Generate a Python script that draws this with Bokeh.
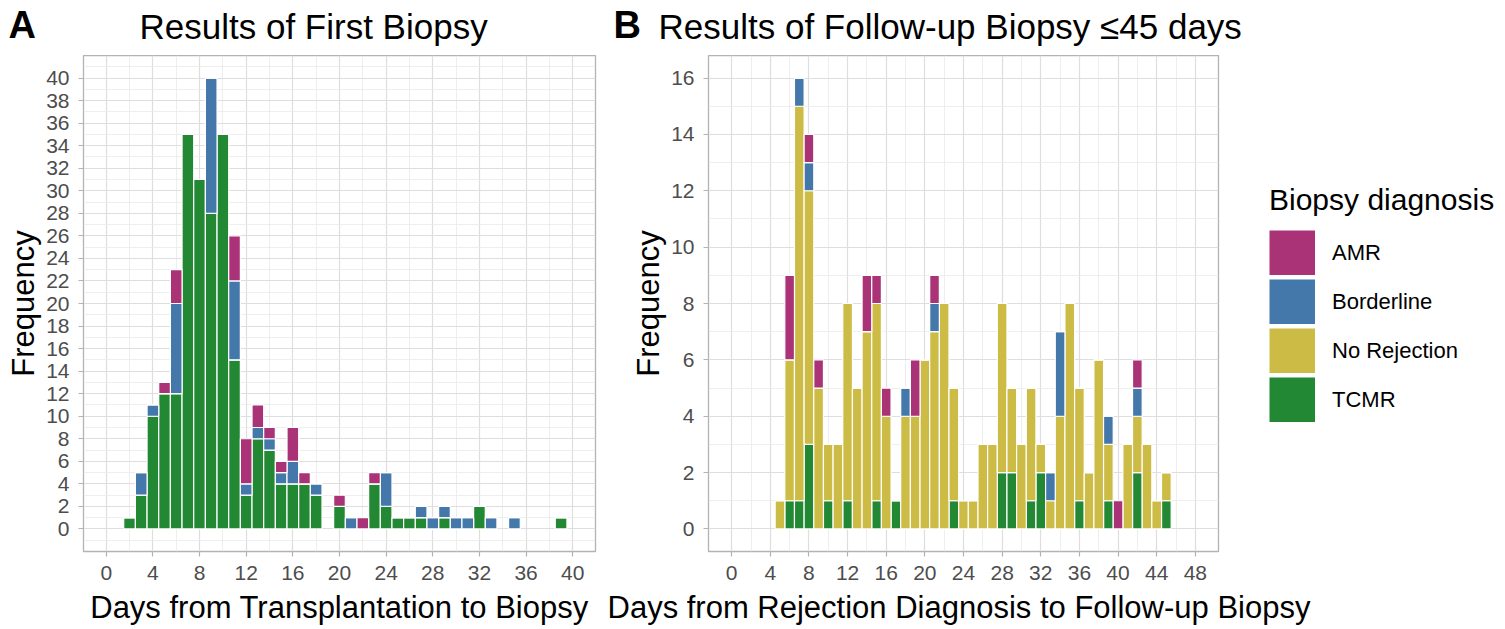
from bokeh.plotting import figure
from bokeh.models import Range1d, FixedTicker, Legend, LegendItem, ColumnDataSource
from bokeh.layouts import row, column
from bokeh.core.properties import value
from bokeh.embed import file_html
from bokeh.resources import INLINE

# ---------------- data ----------------
categories = ["AMR", "Borderline", "No Rejection", "TCMR"]
colors = ["#AA3377", "#4477AA", "#CCBB44", "#228833"]

# Panel A: days from transplantation to first biopsy
days_a   = [2, 3, 4, 5, 6, 7, 8, 9, 10, 11, 12, 13, 14, 15, 16, 17, 18, 20, 21, 22, 23, 24,
            25, 26, 27, 28, 29, 30, 31, 32, 33, 35, 39]
tcmr_a   = [1, 3, 10, 12, 12, 35, 31, 28, 35, 15, 3, 8, 7, 4, 4, 4, 3, 2, 0, 0, 4, 2,
            1, 1, 1, 0, 1, 0, 0, 2, 0, 0, 1]
norej_a  = [0, 0, 0, 0, 0, 0, 0, 0, 0, 0, 0, 0, 0, 0, 0, 0, 0, 0, 0, 0, 0, 0,
            0, 0, 0, 0, 0, 0, 0, 0, 0, 0, 0]
border_a = [0, 2, 1, 0, 8, 0, 0, 12, 0, 7, 1, 1, 1, 1, 2, 0, 1, 0, 1, 0, 0, 3,
            0, 0, 1, 1, 1, 1, 1, 0, 1, 1, 0]
amr_a    = [0, 0, 0, 1, 3, 0, 0, 0, 0, 4, 4, 2, 1, 1, 3, 1, 0, 1, 0, 1, 1, 0,
            0, 0, 0, 0, 0, 0, 0, 0, 0, 0, 0]

# Panel B: days from rejection diagnosis to follow-up biopsy (<=45 days)
days_b   = [5, 6, 7, 8, 9, 10, 11, 12, 13, 14, 15, 16, 17, 18, 19, 20, 21, 22, 23, 24, 25,
            26, 27, 28, 29, 30, 31, 32, 33, 34, 35, 36, 37, 38, 39, 40, 41, 42, 43, 44, 45]
tcmr_b   = [0, 1, 1, 3, 0, 1, 0, 1, 0, 0, 1, 0, 1, 0, 0, 0, 0, 0, 1, 0, 0,
            0, 0, 2, 2, 0, 1, 2, 0, 0, 0, 1, 0, 0, 1, 0, 0, 2, 0, 0, 1]
norej_b  = [1, 5, 14, 9, 5, 2, 3, 7, 5, 7, 7, 4, 0, 4, 4, 6, 7, 8, 4, 1, 1,
            3, 3, 6, 3, 3, 4, 1, 1, 4, 8, 4, 2, 6, 2, 0, 3, 2, 3, 1, 1]
border_b = [0, 0, 1, 1, 0, 0, 0, 0, 0, 0, 0, 0, 0, 1, 0, 0, 1, 0, 0, 0, 0,
            0, 0, 0, 0, 0, 0, 0, 1, 3, 0, 0, 0, 0, 1, 0, 0, 1, 0, 0, 0]
amr_b    = [0, 3, 0, 1, 1, 0, 0, 0, 0, 2, 1, 1, 0, 0, 2, 0, 1, 0, 0, 0, 0,
            0, 0, 0, 0, 0, 0, 0, 0, 0, 0, 0, 0, 0, 0, 1, 0, 1, 0, 0, 0]

xticks_a = list(range(0, 41, 4))
yticks_a = list(range(0, 41, 2))
xticks_b = list(range(0, 49, 4))
yticks_b = list(range(0, 17, 2))

tags = ["A", "B"]
titles = ["Results of First Biopsy", "Results of Follow-up Biopsy \u226445 days"]
xlabels = ["Days from Transplantation to Biopsy",
           "Days from Rejection Diagnosis to Follow-up Biopsy"]
ylabel = "Frequency"
legend_title = "Biopsy diagnosis"

FONT = "Liberation Sans"
stack_order = ["TCMR", "No Rejection", "Borderline", "AMR"]
color_of = dict(zip(categories, colors))

W_A, W_B, W_C = 613, 615, 272
TOTAL_W = W_A + W_B + W_C
TOP_H, PANEL_H, BOTTOM_H = 55, 534, 38


def strip(height):
    s = figure(width=TOTAL_W, height=height, title=None,
               x_range=Range1d(0, TOTAL_W), y_range=Range1d(height, 0),
               x_axis_type=None, y_axis_type=None, output_backend="svg",
               toolbar_location=None, min_border=0)
    s.outline_line_color = None
    s.grid.visible = False
    s.background_fill_color = "white"
    s.border_fill_color = "white"
    return s


def style(p, xt, xminor, yt, yminor):
    p.xaxis.ticker = FixedTicker(ticks=xt, minor_ticks=xminor)
    p.yaxis.ticker = FixedTicker(ticks=yt, minor_ticks=yminor)
    for g in (p.xgrid, p.ygrid):
        g.grid_line_color = "#DEDEDE"
        g.grid_line_width = 1.2
        g.minor_grid_line_color = "#EAEAEA"
        g.minor_grid_line_width = 0.8
    p.outline_line_color = "#B3B3B3"
    p.outline_line_width = 1.3
    p.background_fill_color = "white"
    p.border_fill_color = "white"
    for ax in p.axis:
        ax.axis_line_color = None
        ax.major_tick_line_color = "#B3B3B3"
        ax.major_tick_line_width = 1.2
        ax.major_tick_out = 5
        ax.major_tick_in = 0
        ax.minor_tick_line_color = None
        ax.major_label_text_font = FONT
        ax.major_label_text_font_size = "21px"
        ax.major_label_text_color = "#4D4D4D"
        ax.major_label_standoff = 9
        ax.axis_label_text_font = FONT
        ax.axis_label_text_font_size = "31px"
        ax.axis_label_text_font_style = "normal"
        ax.axis_label_text_color = "black"
        ax.axis_label_standoff = 2
    p.yaxis.axis_label = ylabel


def make_source(days, tcmr, norej, border, amr):
    return ColumnDataSource(dict(day=days, TCMR=tcmr, **{"No Rejection": norej},
                                 Borderline=border, AMR=amr))


def add_stack(p, src):
    rs = p.vbar_stack(stack_order, x="day", width=1.0, source=src,
                      color=[color_of[c] for c in stack_order],
                      line_color="white", line_width=1.2)
    return dict(zip(stack_order, rs))


srcA = make_source(days_a, tcmr_a, norej_a, border_a, amr_a)
srcB = make_source(days_b, tcmr_b, norej_b, border_b, amr_b)

# ---------------- title strip ----------------
top = strip(TOP_H)
top.text(x=[8, W_A], y=[24, 24], text=tags, text_font=value(FONT),
         text_font_size="38px", text_font_style="bold", text_color="black",
         text_baseline="alphabetic", text_align="left")
top.text(x=[139, 658], y=[26, 26], text=titles, text_font=value(FONT),
         text_font_size="35px", text_color="black",
         text_baseline="alphabetic", text_align="left")

# ---------------- panel A ----------------
pA = figure(width=W_A, height=PANEL_H, title=None,
            x_range=Range1d(-1.95, 41.95), y_range=Range1d(-2, 42),
            output_backend="svg", toolbar_location=None,
            min_border_left=83, min_border_right=18, min_border_top=0, min_border_bottom=38)
add_stack(pA, srcA)
style(pA, xticks_a, list(range(2, 41, 4)), yticks_a, list(range(-1, 42, 2)))

# ---------------- panel B ----------------
pB = figure(width=W_B, height=PANEL_H, title=None,
            x_range=Range1d(-2.4, 50.4), y_range=Range1d(-0.8, 16.8),
            output_backend="svg", toolbar_location=None,
            min_border_left=95, min_border_right=10, min_border_top=0, min_border_bottom=38)
add_stack(pB, srcB)
style(pB, xticks_b, list(range(2, 47, 4)), yticks_b, list(range(1, 16, 2)))

# ---------------- legend panel ----------------
pC = figure(width=W_C, height=PANEL_H, title=None,
            x_range=Range1d(100, 101), y_range=Range1d(100, 101),
            x_axis_type=None, y_axis_type=None, output_backend="svg",
            toolbar_location=None, min_border=0)
pC.outline_line_color = None
pC.grid.visible = False
pC.background_fill_color = "white"
pC.border_fill_color = "white"
# legend keys: thick lines from panel B's data, lying outside this frame (only the keys show)
keys = {c: pC.line(x="day", y=c, source=srcB, line_color=color_of[c], line_width=45,
                   line_cap="butt") for c in categories}
legend = Legend(items=[LegendItem(label=c, renderers=[keys[c]]) for c in categories],
                title=legend_title, location=(41, 129),
                glyph_width=46, glyph_height=45, spacing=4, label_standoff=17,
                padding=0, margin=0, border_line_color=None, background_fill_alpha=0,
                title_text_font=FONT, title_text_font_size="30px",
                title_text_font_style="normal", title_text_color="black", title_standoff=13,
                label_text_font=FONT, label_text_font_size="22px", label_text_color="black")
pC.add_layout(legend)

# ---------------- x-label strip ----------------
bot = strip(BOTTOM_H)
bot.text(x=[339, 607], y=[18, 18], text=xlabels, text_font=value(FONT),
         text_font_size="31px", text_color="black", text_baseline="alphabetic",
         text_align=["center", "left"])

layout = column(top, row(pA, pB, pC, spacing=0), bot, spacing=0)
open("out.html", "w").write(file_html(layout, INLINE))
